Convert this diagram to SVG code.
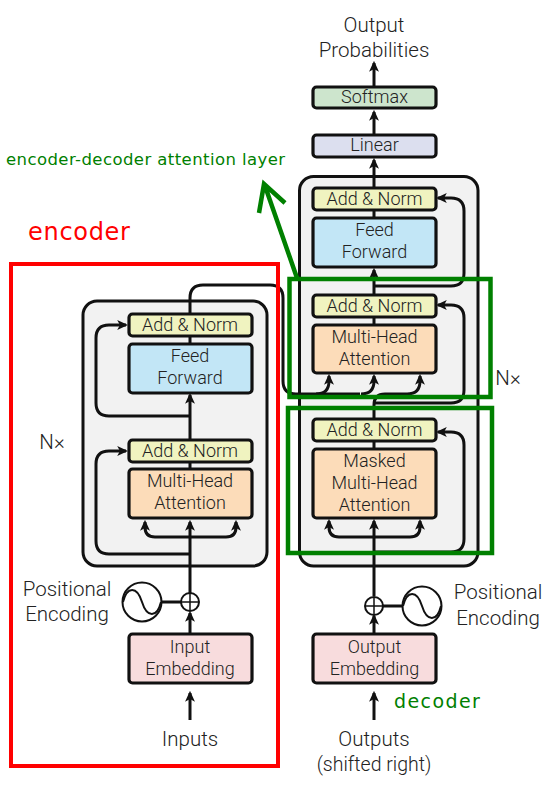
<svg xmlns="http://www.w3.org/2000/svg" width="552" height="791" viewBox="0 0 552 791">
<defs>
<marker id="a" viewBox="0 0 10 10" refX="8" refY="5" markerWidth="11" markerHeight="11" orient="auto" markerUnits="userSpaceOnUse"><path d="M0 0.5L10 5L0 9.5L2.5 5Z" fill="#111"/></marker>
</defs>
<style>
.t{font-family:Roboto,"Liberation Sans",sans-serif;font-weight:300;font-size:18px;fill:#222;text-anchor:middle}
.l{font-family:Roboto,"Liberation Sans",sans-serif;font-weight:300;font-size:20.5px;fill:#222;text-anchor:middle}
.b{stroke:#111;stroke-width:3.2}
.c{fill:none;stroke:#111;stroke-width:3}
.ca{fill:none;stroke:#111;stroke-width:3;marker-end:url(#a)}
.g{fill:none;stroke:#008000;stroke-width:4.5}
.stack{fill:#f2f2f2;stroke:#111;stroke-width:3}
.dv{font-family:"DejaVu Sans",sans-serif}
.norm{fill:#f0f3c0}.ff{fill:#c2e6f6}.att{fill:#fcdcb9}.emb{fill:#f8dcdd}.lin{fill:#dcdfef}.soft{fill:#cde5cd}
</style>
<g id="enc-stack"><rect class="stack" x="83" y="301" width="184" height="265" rx="14"/></g>
<g id="dec-stack"><rect class="stack" x="299.500" y="176.500" width="178.500" height="389.500" rx="14"/></g>
<g id="connectors">
<path class="ca" d="M190 720V693"/>
<path class="ca" d="M190 633V613"/>
<path class="ca" d="M190 593V522"/>
<path class="ca" d="M190 537H155Q145 537 145 527V522"/>
<path class="ca" d="M190 537H226Q236 537 236 527V522"/>
<path class="ca" d="M190 554H109Q96 554 96 541V464Q96 451 109 451H126"/>
<path class="ca" d="M190 439V395"/>
<path class="ca" d="M190 416H109Q96 416 96 403V338Q96 325 109 325H126"/>
<path class="c" d="M190 343V336M190 469V462"/>
<path class="c" d="M190 313V298Q190 285 203 285H270Q283 285 283 298V381Q283 394 296 394H360"/>
<path class="ca" d="M316 394Q329 394 329 381V376"/>
<path class="ca" d="M361 394Q374 394 374 381V376"/>
<path class="ca" d="M374 720V693"/>
<path class="ca" d="M374 633V616"/>
<path class="ca" d="M374 596V521"/>
<path class="ca" d="M374 537H339Q329 537 329 527V521"/>
<path class="ca" d="M374 537H410Q420 537 420 527V521"/>
<path class="ca" d="M374 552H451Q464 552 464 539V445Q464 432 451 432H438"/>
<path class="c" d="M374 449V442"/>
<path class="c" d="M374 418V405Q374 394 385 394H407"/>
<path class="ca" d="M407 394Q420 394 420 381V376"/>
<path class="ca" d="M374 403H451Q464 403 464 390V318Q464 305 451 305H438"/>
<path class="c" d="M374 324V317"/>
<path class="ca" d="M374 294V270"/>
<path class="ca" d="M374 286H451Q464 286 464 273V211Q464 198 451 198H438"/>
<path class="c" d="M374 218V210"/>
<path class="ca" d="M374 187V160"/>
<path class="ca" d="M374 134V112"/>
<path class="ca" d="M374 86V63"/>
<path class="c" d="M162 602H181M402 606H383"/>
</g>
<g id="enc-norm2"><rect class="norm b" x="129" y="314" width="123" height="22" rx="3.500"/><text class="t" x="190" y="331">Add &amp; Norm</text></g>
<g id="enc-ff"><rect class="ff b" x="129" y="344" width="123" height="49" rx="3.500"/><text class="t" x="190" y="362">Feed</text><text class="t" x="190" y="384">Forward</text></g>
<g id="enc-norm1"><rect class="norm b" x="129" y="440" width="123" height="22" rx="3.500"/><text class="t" x="190" y="457">Add &amp; Norm</text></g>
<g id="enc-att"><rect class="att b" x="129" y="469" width="123" height="49" rx="3.500"/><text class="t" x="190" y="487">Multi-Head</text><text class="t" x="190" y="509">Attention</text></g>
<g id="enc-emb"><rect class="emb b" x="129" y="634" width="123" height="49" rx="3.500"/><text class="t" x="190" y="653">Input</text><text class="t" x="190" y="675">Embedding</text></g>
<g id="enc-plus"><circle cx="190" cy="602" r="9" fill="#fff" stroke="#111" stroke-width="2"/><path d="M181 602H199M190 593V611" stroke="#111" stroke-width="1.500"/></g>
<g id="enc-pos"><circle cx="142" cy="602" r="19.500" fill="#fff" stroke="#111" stroke-width="2"/><path d="M123 602C127 586 137 586 142 602C147 618 157 618 161 602" fill="none" stroke="#111" stroke-width="2"/></g>
<g id="dec-pos"><circle cx="422" cy="606" r="19.500" fill="#fff" stroke="#111" stroke-width="2"/><path d="M403 606C407 590 417 590 422 606C427 622 437 622 441 606" fill="none" stroke="#111" stroke-width="2"/></g>
<g id="dec-plus"><circle cx="374" cy="606" r="9" fill="#fff" stroke="#111" stroke-width="2"/><path d="M365 606H383M374 597V615" stroke="#111" stroke-width="1.500"/></g>
<g id="dec-soft"><rect class="soft b" x="313" y="87" width="123" height="21" rx="3.500"/><text class="t" x="374.500" y="103">Softmax</text></g>
<g id="dec-lin"><rect class="lin b" x="313" y="135" width="123" height="22" rx="3.500"/><text class="t" x="374.500" y="151">Linear</text></g>
<g id="dec-norm3"><rect class="norm b" x="313" y="188" width="123" height="22" rx="3.500"/><text class="t" x="374.500" y="205">Add &amp; Norm</text></g>
<g id="dec-ff"><rect class="ff b" x="313" y="218" width="123" height="49" rx="3.500"/><text class="t" x="374.500" y="236">Feed</text><text class="t" x="374.500" y="258">Forward</text></g>
<g id="dec-norm2"><rect class="norm b" x="313" y="295" width="123" height="22" rx="3.500"/><text class="t" x="374.500" y="312">Add &amp; Norm</text></g>
<g id="dec-att"><rect class="att b" x="313" y="325" width="123" height="48" rx="3.500"/><text class="t" x="374.500" y="343">Multi-Head</text><text class="t" x="374.500" y="365">Attention</text></g>
<g id="dec-norm1"><rect class="norm b" x="313" y="419" width="123" height="22" rx="3.500"/><text class="t" x="374.500" y="436">Add &amp; Norm</text></g>
<g id="dec-mask"><rect class="att b" x="313" y="449" width="123" height="69" rx="3.500"/><text class="t" x="374.500" y="467">Masked</text><text class="t" x="374.500" y="489">Multi-Head</text><text class="t" x="374.500" y="511">Attention</text></g>
<g id="dec-emb"><rect class="emb b" x="313" y="634" width="123" height="49" rx="3.500"/><text class="t" x="374.500" y="653">Output</text><text class="t" x="374.500" y="675">Embedding</text></g>
<text class="l" x="374" y="32">Output</text><text class="l" x="374" y="57">Probabilities</text>
<text class="l" x="190" y="746">Inputs</text>
<text class="l" x="374" y="746">Outputs</text><text class="l" x="374" y="771" style="font-size:19.500px">(shifted right)</text>
<text class="l" x="67" y="596">Positional</text><text class="l" x="67" y="621">Encoding</text>
<text class="l" x="498" y="599">Positional</text><text class="l" x="498" y="625">Encoding</text>
<text class="l" x="52" y="449">N×</text><text class="l" x="508" y="385">N×</text>
<g id="enc-box"><rect x="11" y="264" width="267" height="502" fill="none" stroke="#f00" stroke-width="4"/></g>
<text class="dv" x="28" y="240" style="font-size:24px;letter-spacing:.7px;fill:#f00">encoder</text>
<g id="dec-box1"><rect class="g" x="289.500" y="279" width="201" height="118"/></g>
<g id="dec-box2"><rect class="g" x="288" y="408" width="204" height="145"/></g>
<path class="g" d="M297 278L265 186M259 213L264 184L285 203"/>
<text class="dv" x="6" y="165" style="font-size:16.500px;letter-spacing:.42px;fill:#008000">encoder-decoder attention layer</text>
<text class="dv" x="394" y="708" style="font-size:19px;letter-spacing:1.400px;fill:#008000">decoder</text>
</svg>
